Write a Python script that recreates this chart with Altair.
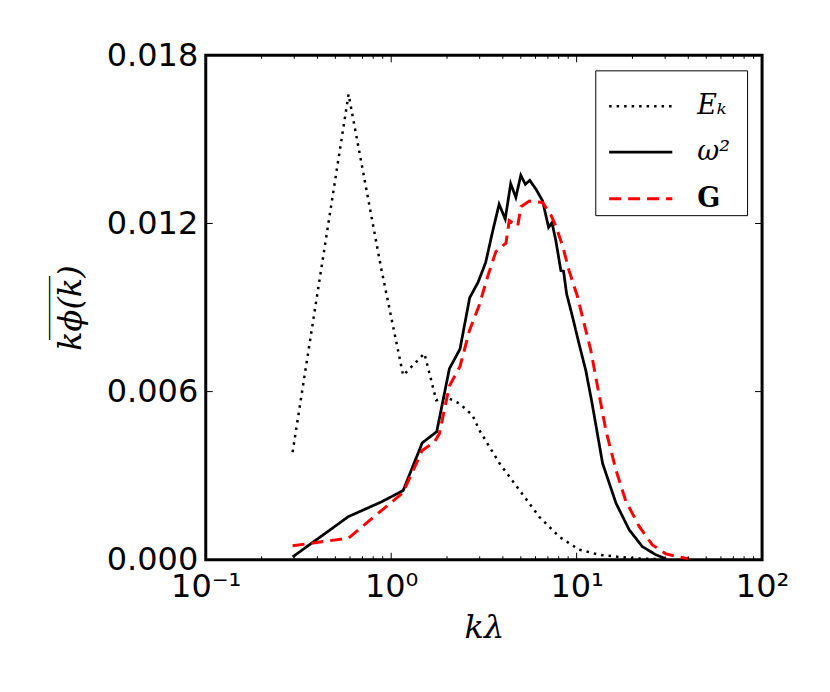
import altair as alt
import pandas as pd

# ---- data ----
series_names = ["E_k", "w2", "G"]

ek_k = [0.294, 0.589, 0.883, 1.16, 1.51, 1.75, 1.99, 2.33, 2.74, 2.99, 3.83, 4.91, 6.29, 8.06, 10.3, 13.2, 16.9, 22.0, 28.0]
ek_v = [0.00384, 0.01661, 0.0104, 0.00658, 0.00736, 0.00569, 0.0058, 0.00558, 0.00516, 0.00462, 0.00345, 0.00249,
        0.00153, 0.00082, 0.00036, 0.00018, 0.0001, 0.00004, 0.00002]

w2_k = [0.294, 0.588, 0.883, 1.16, 1.47, 1.76, 2.06, 2.35, 2.65, 2.94, 3.23, 3.53, 3.82, 4.12, 4.41, 4.70, 5.00,
        5.29, 5.59, 6.04, 6.55, 7.06, 7.36, 7.73, 8.22, 8.5, 8.83, 9.51, 10.3, 11.2, 12.1, 13.8, 16.3, 19.2, 22.6,
        26.7, 30.3]
w2_v = [0.0001, 0.00154, 0.00206, 0.00247, 0.00417, 0.00457, 0.00682, 0.00752, 0.00935, 0.0099, 0.0106, 0.01174,
        0.01269, 0.01216, 0.01342, 0.01293, 0.01372, 0.0134, 0.01354, 0.01322, 0.01281, 0.01186, 0.01203, 0.01138,
        0.01032, 0.0103, 0.00949, 0.00866, 0.00771, 0.00676, 0.0056, 0.00344, 0.00202, 0.00107, 0.00047, 0.00018,
        0.00003]

g_k = [0.294, 0.588, 1.16, 1.47, 1.71, 1.82, 2.06, 2.35, 2.65, 2.99, 3.31, 3.67, 4.16, 4.33, 4.81, 5.01, 5.56, 6.55,
       7.27, 7.73, 8.40, 9.12, 10.1, 11.0, 11.9, 12.7, 14.4, 16.3, 18.4, 21.7, 25.6, 30.3, 35.7, 40.4]
g_v = [0.0005, 0.00077, 0.0024, 0.0039, 0.0042, 0.0045, 0.0062, 0.0069, 0.0082, 0.0091, 0.0101, 0.0110, 0.0113,
       0.0121, 0.0119, 0.0126, 0.0128, 0.01275, 0.0123, 0.0119, 0.0112, 0.0103, 0.0094, 0.0084, 0.0075, 0.0065,
       0.0046, 0.0032, 0.0021, 0.0012, 0.00053, 0.00021, 0.0001, 0.00003]

x_major = [0.1, 1, 10, 100]
x_minor = [m * d for d in [0.1, 1, 10] for m in range(2, 10)]
y_major = [0.0, 0.006, 0.012, 0.018]

# ---- table ----
rows = []
for name, ks, vs in zip(series_names, [ek_k, w2_k, g_k], [ek_v, w2_v, g_v]):
    for i, (k, v) in enumerate(zip(ks, vs)):
        rows.append({"s": name, "k": k, "v": v, "o": i})
df = pd.DataFrame(rows)

W, H = 557, 505
xscale = alt.Scale(type="log", domain=[0.1, 100], nice=False)
yscale = alt.Scale(domain=[0, 0.018], nice=False, zero=False)

x_axis = alt.Axis(
    values=x_major, ticks=False, domain=False, grid=False,
    labelExpr="datum.value < 0.5 ? '10⁻¹' : datum.value < 5 ? '10⁰' : datum.value < 50 ? '10¹' : '10²'",
    labelFont="DejaVu Sans", labelFontSize=32, labelColor="black", labelPadding=12,
    labelFlush=False, labelOverlap=False,
    title="kλ", titleFont="DejaVu Serif", titleFontStyle="italic", titleFontWeight="normal",
    titleFontSize=32, titleColor="black", titlePadding=10)

y_axis = alt.Axis(
    values=y_major, format=".3f", ticks=False, domain=False, grid=False,
    labelFont="DejaVu Sans", labelFontSize=32, labelColor="black", labelPadding=8,
    labelFlush=False, labelOverlap=False,
    title=["____", "k\u03d5(k)"], titleFont="DejaVu Serif", titleFontStyle="italic",
    titleFontWeight="normal", titleFontSize=32, titleColor="black", titlePadding=19,
    titleLineHeight=38)

legend = alt.Legend(
    title=None, orient="top-right", offset=15, padding=3,
    strokeColor="black", fillColor="white", cornerRadius=0,
    symbolType="stroke", symbolSize=4000, symbolStrokeWidth=2.5, symbolOffset=9,
    labelFont="DejaVu Serif", labelFontSize=27, labelOffset=23, rowPadding=0,
    labelExpr="(datum.value == 'E_k' ? 'Eₖ' : datum.value == 'w2' ? 'ω²' : 'G') + '\u2002\u200c'",
    labelFontStyle=alt.ExprRef(expr="datum.value == 'G' ? 'normal' : 'italic'"),
    labelFontWeight=alt.ExprRef(expr="datum.value == 'G' ? 'bold' : 'normal'"),
)

lines = alt.Chart(df).mark_line(clip=True).encode(
    x=alt.X("k:Q", scale=xscale, axis=x_axis),
    y=alt.Y("v:Q", scale=yscale, axis=y_axis),
    color=alt.Color("s:N", scale=alt.Scale(domain=series_names, range=["black", "black", "red"]), legend=legend),
    strokeDash=alt.StrokeDash("s:N", scale=alt.Scale(domain=series_names, range=[[2.5, 5], [1, 0], [12, 7]]),
                              legend=legend),
    strokeWidth=alt.StrokeWidth("s:N", scale=alt.Scale(domain=series_names, range=[2.5, 3, 3]), legend=None),
    order="o:Q",
)

tx_major = pd.DataFrame({"k": x_major})
tx_minor = pd.DataFrame({"k": x_minor})
ty_major = pd.DataFrame({"v": y_major})

def xticks(data, length):
    xe = alt.X("k:Q", scale=xscale, axis=x_axis)
    bottom = alt.Chart(data).mark_rule(color="black", strokeWidth=1).encode(
        x=xe, y=alt.value(H), y2=alt.value(H - length))
    top = alt.Chart(data).mark_rule(color="black", strokeWidth=1).encode(
        x=xe, y=alt.value(0), y2=alt.value(length))
    return bottom + top

ye = alt.Y("v:Q", scale=yscale, axis=y_axis)
yl = alt.Chart(ty_major).mark_rule(color="black", strokeWidth=1).encode(
    y=ye, x=alt.value(0), x2=alt.value(7))
yr = alt.Chart(ty_major).mark_rule(color="black", strokeWidth=1).encode(
    y=ye, x=alt.value(W - 7), x2=alt.value(W))

chart = alt.layer(
    lines, xticks(tx_major, 7), xticks(tx_minor, 3.5), yl, yr
).properties(
    width=W, height=H,
    autosize=alt.AutoSizeParams(type="none"),
    padding={"left": 198, "top": 47, "right": 60, "bottom": 120},
    background="white",
).configure_view(
    stroke="black", strokeWidth=3
)

chart.save("out.html", embed_options={"renderer": "svg", "actions": False})
